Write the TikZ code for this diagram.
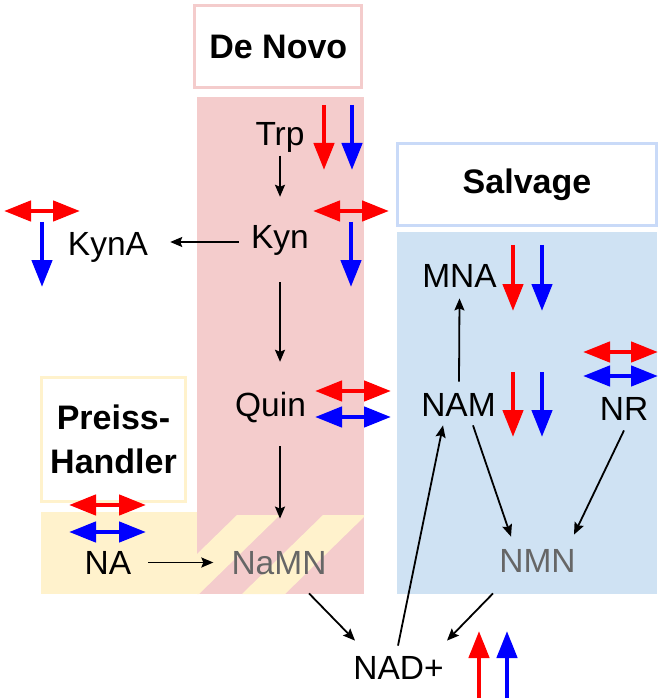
\documentclass[tikz,border=0pt]{standalone}
\usepackage{fontspec}
\setmainfont{Liberation Sans}
\usetikzlibrary{arrows.meta}
\definecolor{pinkp}{HTML}{F4CCCC}
\definecolor{bluep}{HTML}{CFE2F3}
\definecolor{yelp}{HTML}{FFF2CC}
\definecolor{blueb}{HTML}{C9DAF8}
\definecolor{grayt}{HTML}{666666}
\definecolor{pred}{HTML}{FF0000}
\definecolor{pblue}{HTML}{0000FF}
\tikzset{
 lbl/.style={font=\fontsize{33.5}{40}\selectfont, inner sep=0pt, text height=24pt, text depth=0pt},
 ttl/.style={font=\fontsize{34}{43.5}\selectfont\bfseries, align=center, inner sep=0pt},
 tbox/.style={line width=3pt, fill=white},
 blk/.style={line width=1.8pt, -{Stealth[length=12pt,width=10pt,inset=2pt]}},
 fat/.style={line width=4.5pt, -{Triangle[length=27pt,width=20pt]}},
 fatboth/.style={line width=4.5pt, {Triangle[length=27pt,width=20pt]}-{Triangle[length=27pt,width=20pt]}},
}
\begin{document}
\begin{tikzpicture}[x=1pt,y=-1pt]
\useasboundingbox (0,0) rectangle (664,700);
% panels
\fill[yelp] (41,512) rectangle (197,594);
\fill[pinkp] (197,97) rectangle (364,594);
\begin{scope}
 \clip (197,97) rectangle (364,594);
 \fill[yelp] (237,515) -- (280,515) -- (199,594) -- (156,594) -- cycle;
 \fill[yelp] (323,515) -- (366,515) -- (285,594) -- (242,594) -- cycle;
\end{scope}
\fill[bluep] (397,232) rectangle (657,594);
% title boxes
\node[tbox, draw=pinkp, minimum width=167pt, minimum height=82pt, ttl] (denovo) at (278.3,46.5) {De Novo};
\node[tbox, draw=blueb, minimum width=259pt, minimum height=82pt, ttl] (salvage) at (527,184.5) {Salvage};
\node[tbox, draw=yelp, minimum width=144pt, minimum height=124pt, ttl] (preiss) at (113.5,439.5) {Preiss-\\Handler};
% labels
\node[lbl] (trp) at (280,133.5) {Trp};
\node[lbl] (kyn) at (280,237) {Kyn};
\node[lbl] (kyna) at (108,243.5) {KynA};
\node[lbl] (quin) at (270.5,404) {Quin};
\node[lbl, text=grayt] (namn) at (279,562.5) {NaMN};
\node[lbl] (na) at (108,562.5) {NA};
\node[lbl] (mna) at (459.5,275.5) {MNA};
\node[lbl] (nam) at (458.5,404) {NAM};
\node[lbl] (nr) at (624,408) {NR};
\node[lbl, text=grayt] (nmn) at (537.5,560) {NMN};
\node[lbl] (nad) at (398.5,667.5) {NAD+};
% black connectors
\draw[blk] ([yshift=-10pt]trp.south) -- ([yshift=28pt]kyn.north);
\draw[blk] ([xshift=-12pt,yshift=-5pt]kyn.west) -- ([xshift=22pt,yshift=1.5pt]kyna.east);
\draw[blk] ([yshift=-33pt]kyn.south) -- ([xshift=9.5pt,yshift=30pt]quin.north);
\draw[blk] ([xshift=9.5pt,yshift=-30pt]quin.south) -- ([xshift=1pt,yshift=31.7pt]namn.north);
\draw[blk] ([xshift=17pt]na.east) -- ([xshift=-18pt]namn.west);
\draw[blk] ([xshift=30pt,yshift=-18.7pt]namn.south) -- ([xshift=-43.5pt,yshift=14.7pt]nad.north);
\draw[blk] ([xshift=-44.5pt,yshift=-21.2pt]nmn.south) -- ([xshift=48.5pt,yshift=14.7pt]nad.north);
\draw[blk] ([xshift=-0.5pt,yshift=9.7pt]nad.north) -- ([xshift=-15.5pt,yshift=-9.2pt]nam.south);
\draw[blk] ([xshift=0.5pt,yshift=10.2pt]nam.north) -- ([yshift=-10.7pt]mna.south);
\draw[blk] ([xshift=14.5pt,yshift=-9.2pt]nam.south) -- ([xshift=-26.5pt,yshift=11.2pt]nmn.north);
\draw[blk] ([yshift=-10.2pt]nr.south) -- ([xshift=36.5pt,yshift=13.2pt]nmn.north);
% coloured indicator arrows
\draw[fat, pred] (324,105) -- (324,170);
\draw[fat, pblue] (352,105) -- (352,170);
\draw[fatboth, pred] (313,211) -- (389,211);
\draw[fat, pblue] (351,222) -- (351,287);
\draw[fatboth, pred] (4,211) -- (80,211);
\draw[fat, pblue] (42,222) -- (42,287);
\draw[fat, pred] (513,245) -- (513,311);
\draw[fat, pblue] (542,245) -- (542,311);
\draw[fat, pred] (513,372) -- (513,437);
\draw[fat, pblue] (542,372) -- (542,437);
\draw[fatboth, pred] (583,352) -- (658,352);
\draw[fatboth, pblue] (583,376) -- (658,376);
\draw[fatboth, pred] (315,391) -- (391,391);
\draw[fatboth, pblue] (315,417) -- (391,417);
\draw[fatboth, pred] (69,505) -- (146,505);
\draw[fatboth, pblue] (69,532) -- (146,532);
\draw[fat, pred] (479,698) -- (479,631);
\draw[fat, pblue] (507,698) -- (507,631);
\end{tikzpicture}
\end{document}
